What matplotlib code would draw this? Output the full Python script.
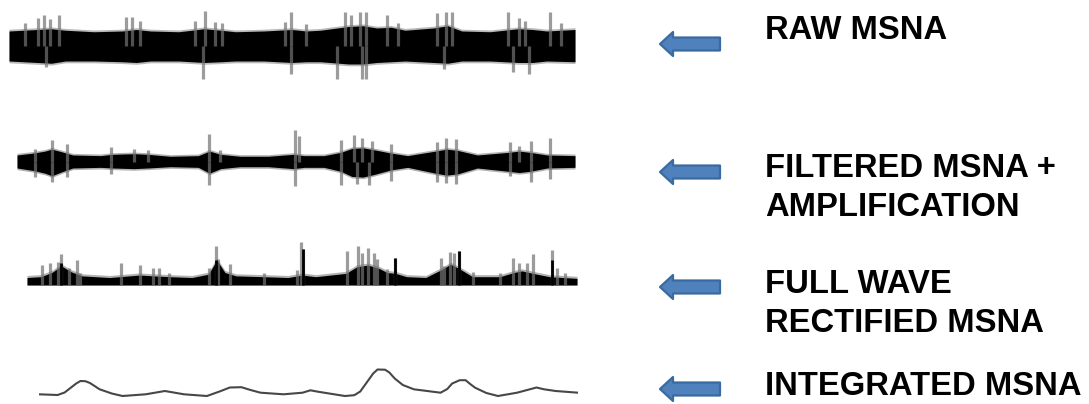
import numpy as np
import matplotlib.pyplot as plt
from matplotlib.patches import Polygon

plt.rcParams['font.family'] = ['Liberation Sans', 'DejaVu Sans']

# time axis shared by all traces (s)
duration = 20.0

# --- raw MSNA: noise band edges + spikes (arbitrary units) ---
raw_env_t = [0, 1, 1.5, 2, 3, 4, 4.5, 5, 6, 6.9, 7.5, 8, 9, 10, 10.5, 11, 12, 12.5,
             13, 13.5, 14, 15, 15.5, 16, 17, 18, 18.5, 19, 20]
raw_env_hi = [1.0, 1.1, 1.15, 1.05, 0.95, 1.0, 1.1, 1.0, 0.95, 1.15, 1.05, 0.95, 1.0, 1.1,
              1.0, 1.05, 1.3, 1.35, 1.2, 1.25, 1.05, 1.2, 1.35, 1.0, 0.95, 1.15, 1.1, 1.0, 1.1]
raw_env_lo = [-1.0, -1.1, -1.15, -1.0, -1.0, -1.05, -1.1, -1.0, -1.0, -1.1, -1.05, -1.0,
              -1.0, -1.1, -1.05, -1.05, -1.2, -1.2, -1.1, -1.05, -1.0, -1.1, -1.15, -1.0,
              -1.0, -1.1, -1.1, -1.0, -1.05]
raw_up_t = [0.57, 1.02, 1.24, 1.45, 1.77, 4.13, 4.35, 4.63, 6.57, 6.93, 7.28, 7.53, 9.75,
            9.96, 10.49, 11.87, 12.08, 12.40, 12.61, 13.36, 13.75, 15.12, 15.44, 15.65,
            17.63, 18.02, 18.23, 19.12, 19.51]
raw_up_h = [1.55, 1.88, 2.1, 1.79, 2.07, 1.95, 1.95, 1.7, 1.7, 2.36, 1.6, 1.55, 1.6, 2.3,
            1.48, 2.3, 2.07, 2.3, 2.3, 2.07, 1.55, 2.18, 2.3, 2.3, 2.3, 1.88, 1.7, 2.3, 1.55]
raw_dn_t = [1.31, 6.86, 9.96, 11.59, 12.47, 12.61, 15.37, 17.81, 18.37]
raw_dn_h = [-1.38, -2.17, -1.86, -2.17, -2.17, -2.17, -1.5, -1.74, -1.86]

# --- filtered + amplified ---
filt_env_t = [0, 0.6, 1.0, 1.25, 1.6, 2.0, 3.0, 3.4, 4.2, 4.7, 5.5, 6.5, 6.9, 7.3, 8, 9,
              9.9, 10.3, 11, 11.6, 12.0, 12.4, 12.8, 13.4, 14, 15.0, 15.4, 15.8, 16.5,
              17.6, 18.0, 18.4, 19, 20]
filt_env_hi = [1.0, 1.3, 1.6, 1.9, 1.5, 1.0, 0.9, 1.1, 1.2, 1.1, 0.8, 0.9, 1.6, 1.1, 0.8,
               0.8, 1.1, 0.9, 0.9, 1.4, 2.0, 2.1, 1.8, 1.3, 0.9, 1.6, 1.9, 1.7, 1.0, 1.4,
               1.6, 1.4, 1.0, 0.9]
filt_env_lo = [-1.0, -1.4, -1.8, -2.2, -1.6, -1.0, -0.9, -1.0, -1.1, -1.0, -0.8, -0.9,
               -1.8, -1.1, -0.8, -0.8, -1.1, -0.9, -0.9, -1.5, -2.3, -2.4, -2.0, -1.3,
               -0.9, -1.8, -2.1, -1.9, -1.0, -1.5, -1.7, -1.5, -1.0, -0.9]
filt_up_t = [0.63, 1.24, 1.79, 3.37, 4.19, 4.68, 6.87, 7.28, 9.96, 10.10, 11.61, 12.09,
             12.37, 12.71, 13.40, 15.05, 15.39, 15.73, 17.66, 18.00, 18.41, 19.10]
filt_up_h = [1.94, 3.26, 2.69, 2.29, 1.94, 1.83, 4.23, 1.83, 4.8, 4.0, 3.26, 4.11, 3.66,
             3.09, 2.69, 2.97, 3.54, 3.43, 2.97, 2.4, 3.14, 3.66]
filt_dn_t = [0.63, 1.24, 1.79, 3.37, 6.87, 9.96, 11.61, 12.2, 12.6, 13.4, 15.05, 15.39,
             15.73, 17.66, 18.41, 19.1]
filt_dn_h = [-2.46, -3.2, -2.46, -1.89, -3.6, -3.77, -3.6, -3.43, -3.6, -3.03, -3.2,
             -3.31, -3.49, -2.17, -3.2, -2.74]

# --- full wave rectified ---
rect_env_t = [0, 0.5, 0.9, 1.25, 1.6, 2.0, 3, 4.1, 4.6, 5.2, 6, 6.6, 6.9, 7.2, 7.6, 8.6,
              9.5, 10.0, 10.5, 11.6, 12.0, 12.4, 12.8, 13.1, 13.4, 13.8, 14.5, 15.1,
              15.4, 15.7, 16.2, 17.2, 17.7, 18.0, 18.4, 19, 20]
rect_env_hi = [0.9, 1.0, 1.5, 2.3, 1.6, 1.1, 0.9, 1.2, 1.1, 1.0, 0.9, 1.3, 3.0, 1.5, 1.1,
               1.0, 0.9, 1.2, 1.0, 1.4, 2.2, 2.4, 2.0, 1.5, 1.4, 1.0, 0.9, 1.9, 2.5, 2.0,
               1.0, 1.0, 1.5, 1.7, 1.4, 1.0, 0.8]
rect_up_t = [0.55, 0.83, 1.11, 1.25, 1.53, 1.80, 1.94, 3.41, 4.10, 4.59, 4.80, 5.15, 6.61,
             6.89, 6.96, 7.38, 8.63, 9.81, 9.96, 10.05, 11.63, 12.04, 12.19, 12.39,
             12.60, 12.74, 13.09, 13.37, 15.04, 15.18, 15.39, 15.53, 15.70, 16.23, 17.2,
             17.69, 17.90, 18.17, 18.39, 19.08, 19.29, 19.57]
rect_up_h = [2.4, 2.6, 2.8, 3.7, 2.0, 3.0, 1.4, 2.6, 2.4, 2.0, 2.0, 1.5, 2.0, 4.7, 3.1,
             2.5, 1.5, 1.8, 5.2, 4.3, 4.1, 4.7, 3.9, 4.5, 3.8, 3.1, 1.9, 3.2, 3.2, 2.3,
             4.0, 3.8, 4.1, 1.6, 1.4, 3.3, 2.6, 2.6, 3.7, 4.2, 2.0, 1.5]
rect_dark_t = [1.25, 6.89, 10.05, 13.37, 15.70, 19.08]
rect_dark_h = [2.6, 3.0, 4.3, 3.2, 4.1, 3.0]

# --- integrated ---
int_t = [0, 0.69, 0.95, 1.18, 1.38, 1.54, 1.72, 1.89, 2.25, 2.7, 3.10, 3.96, 4.67, 5.38,
         6.23, 6.7, 7.08, 7.51, 7.85, 8.22, 9.07, 9.78, 10.07, 10.35, 11.35, 11.7, 11.92,
         12.20, 12.40, 12.56, 12.84, 13.0, 13.20, 13.5, 13.91, 14.90, 15.15, 15.33,
         15.61, 15.83, 16.0, 16.18, 16.6, 17.03, 17.74, 18.46, 18.74, 19.17, 20]
int_v = [1.7, 1.0, 3.5, 8.3, 12.5, 15.0, 14.8, 13.0, 6.7, 2.5, 0.0, 1.7, 5.0, 1.7, 0.0,
         4.5, 8.5, 8.8, 6.0, 3.3, 1.7, 3.3, 5.7, 4.3, 0.0, 0.8, 4.5, 15.0, 22.5, 26.5,
         26.3, 23.5, 17.5, 11.0, 6.7, 3.3, 7.0, 12.5, 15.8, 15.8, 12.0, 8.3, 3.0, 0.0,
         3.3, 8.5, 6.7, 5.0, 3.3]

labels = ['RAW MSNA', 'FILTERED MSNA +\nAMPLIFICATION', 'FULL WAVE\nRECTIFIED MSNA',
          'INTEGRATED MSNA']

W, H = 1089, 404
fig = plt.figure(figsize=(W / 100, H / 100), dpi=100)
fig.patch.set_facecolor('white')


def trace_axes(x0, x1, y0, y1, base, ppu):
    # axes placed in pixel box, y scaled so 1 unit = ppu pixels about base line
    ax = fig.add_axes([x0 / W, 1 - y1 / H, (x1 - x0) / W, (y1 - y0) / H])
    ax.set_xlim(0, duration)
    ax.set_ylim(-(y1 - base) / ppu, (base - y0) / ppu)
    ax.axis('off')
    return ax


spike_kw = dict(colors='0.45', alpha=0.7, linewidth=2.3)

# raw
ax = trace_axes(9, 575, 0, 100, 46, 15)
ax.vlines(raw_up_t, 0, raw_up_h, **spike_kw)
ax.vlines(raw_dn_t, 0, raw_dn_h, **spike_kw)
ax.fill_between(raw_env_t, np.array(raw_env_lo) - 0.12, np.array(raw_env_hi) + 0.12,
                color='0.45', alpha=0.5, linewidth=0)
ax.fill_between(raw_env_t, raw_env_lo, raw_env_hi, color='black', linewidth=0)

# filtered
ax = trace_axes(17, 575, 110, 210, 161.5, 6.5)
ax.vlines(filt_up_t, 0, filt_up_h, **spike_kw)
ax.vlines(filt_dn_t, 0, filt_dn_h, **spike_kw)
ax.fill_between(filt_env_t, np.array(filt_env_lo) - 0.25, np.array(filt_env_hi) + 0.25,
                color='0.4', alpha=0.5, linewidth=0)
ax.fill_between(filt_env_t, filt_env_lo, filt_env_hi, color='black', linewidth=0)

# rectified
ax = trace_axes(27, 577, 225, 300, 285, 8.3)
ax.vlines(rect_up_t, 0, rect_up_h, **spike_kw)
ax.vlines(rect_dark_t, 0, rect_dark_h, colors='black', linewidth=2.0)
ax.fill_between(rect_env_t, 0, np.array(rect_env_hi) + 0.25,
                color='0.4', alpha=0.5, linewidth=0)
ax.fill_between(rect_env_t, 0, rect_env_hi, color='black', linewidth=0)

# integrated
ax = trace_axes(39, 578, 355, 404, 396, 1.0)
ax.plot(int_t, int_v, color='0.28', linewidth=1.5, solid_joinstyle='round')

# arrows + labels on a full-figure overlay in pixel units
ov = fig.add_axes([0, 0, 1, 1])
ov.set_xlim(0, W)
ov.set_ylim(H, 0)
ov.axis('off')

arrow_y = [44, 172, 287, 389]
text_y = [39, 177, 293, 395]
for ay, ty, lab in zip(arrow_y, text_y, labels):
    shape = np.array([[0, 0], [13, -12], [13, -6.5], [60, -6.5], [60, 6.5],
                      [13, 6.5], [13, 12]])
    shape[:, 0] += 660
    shape[:, 1] += ay
    ov.add_patch(Polygon(shape, closed=True, facecolor='#4f81bd',
                         edgecolor='#3b6aa0', linewidth=1.6, joinstyle='round'))
    for i, line in enumerate(lab.split('\n')):
        ov.text(765, ty + i * 38.5, line, fontsize=23.6, fontweight='bold',
                color='black', ha='left', va='baseline')

fig.savefig('out.png', dpi=100, facecolor='white')
